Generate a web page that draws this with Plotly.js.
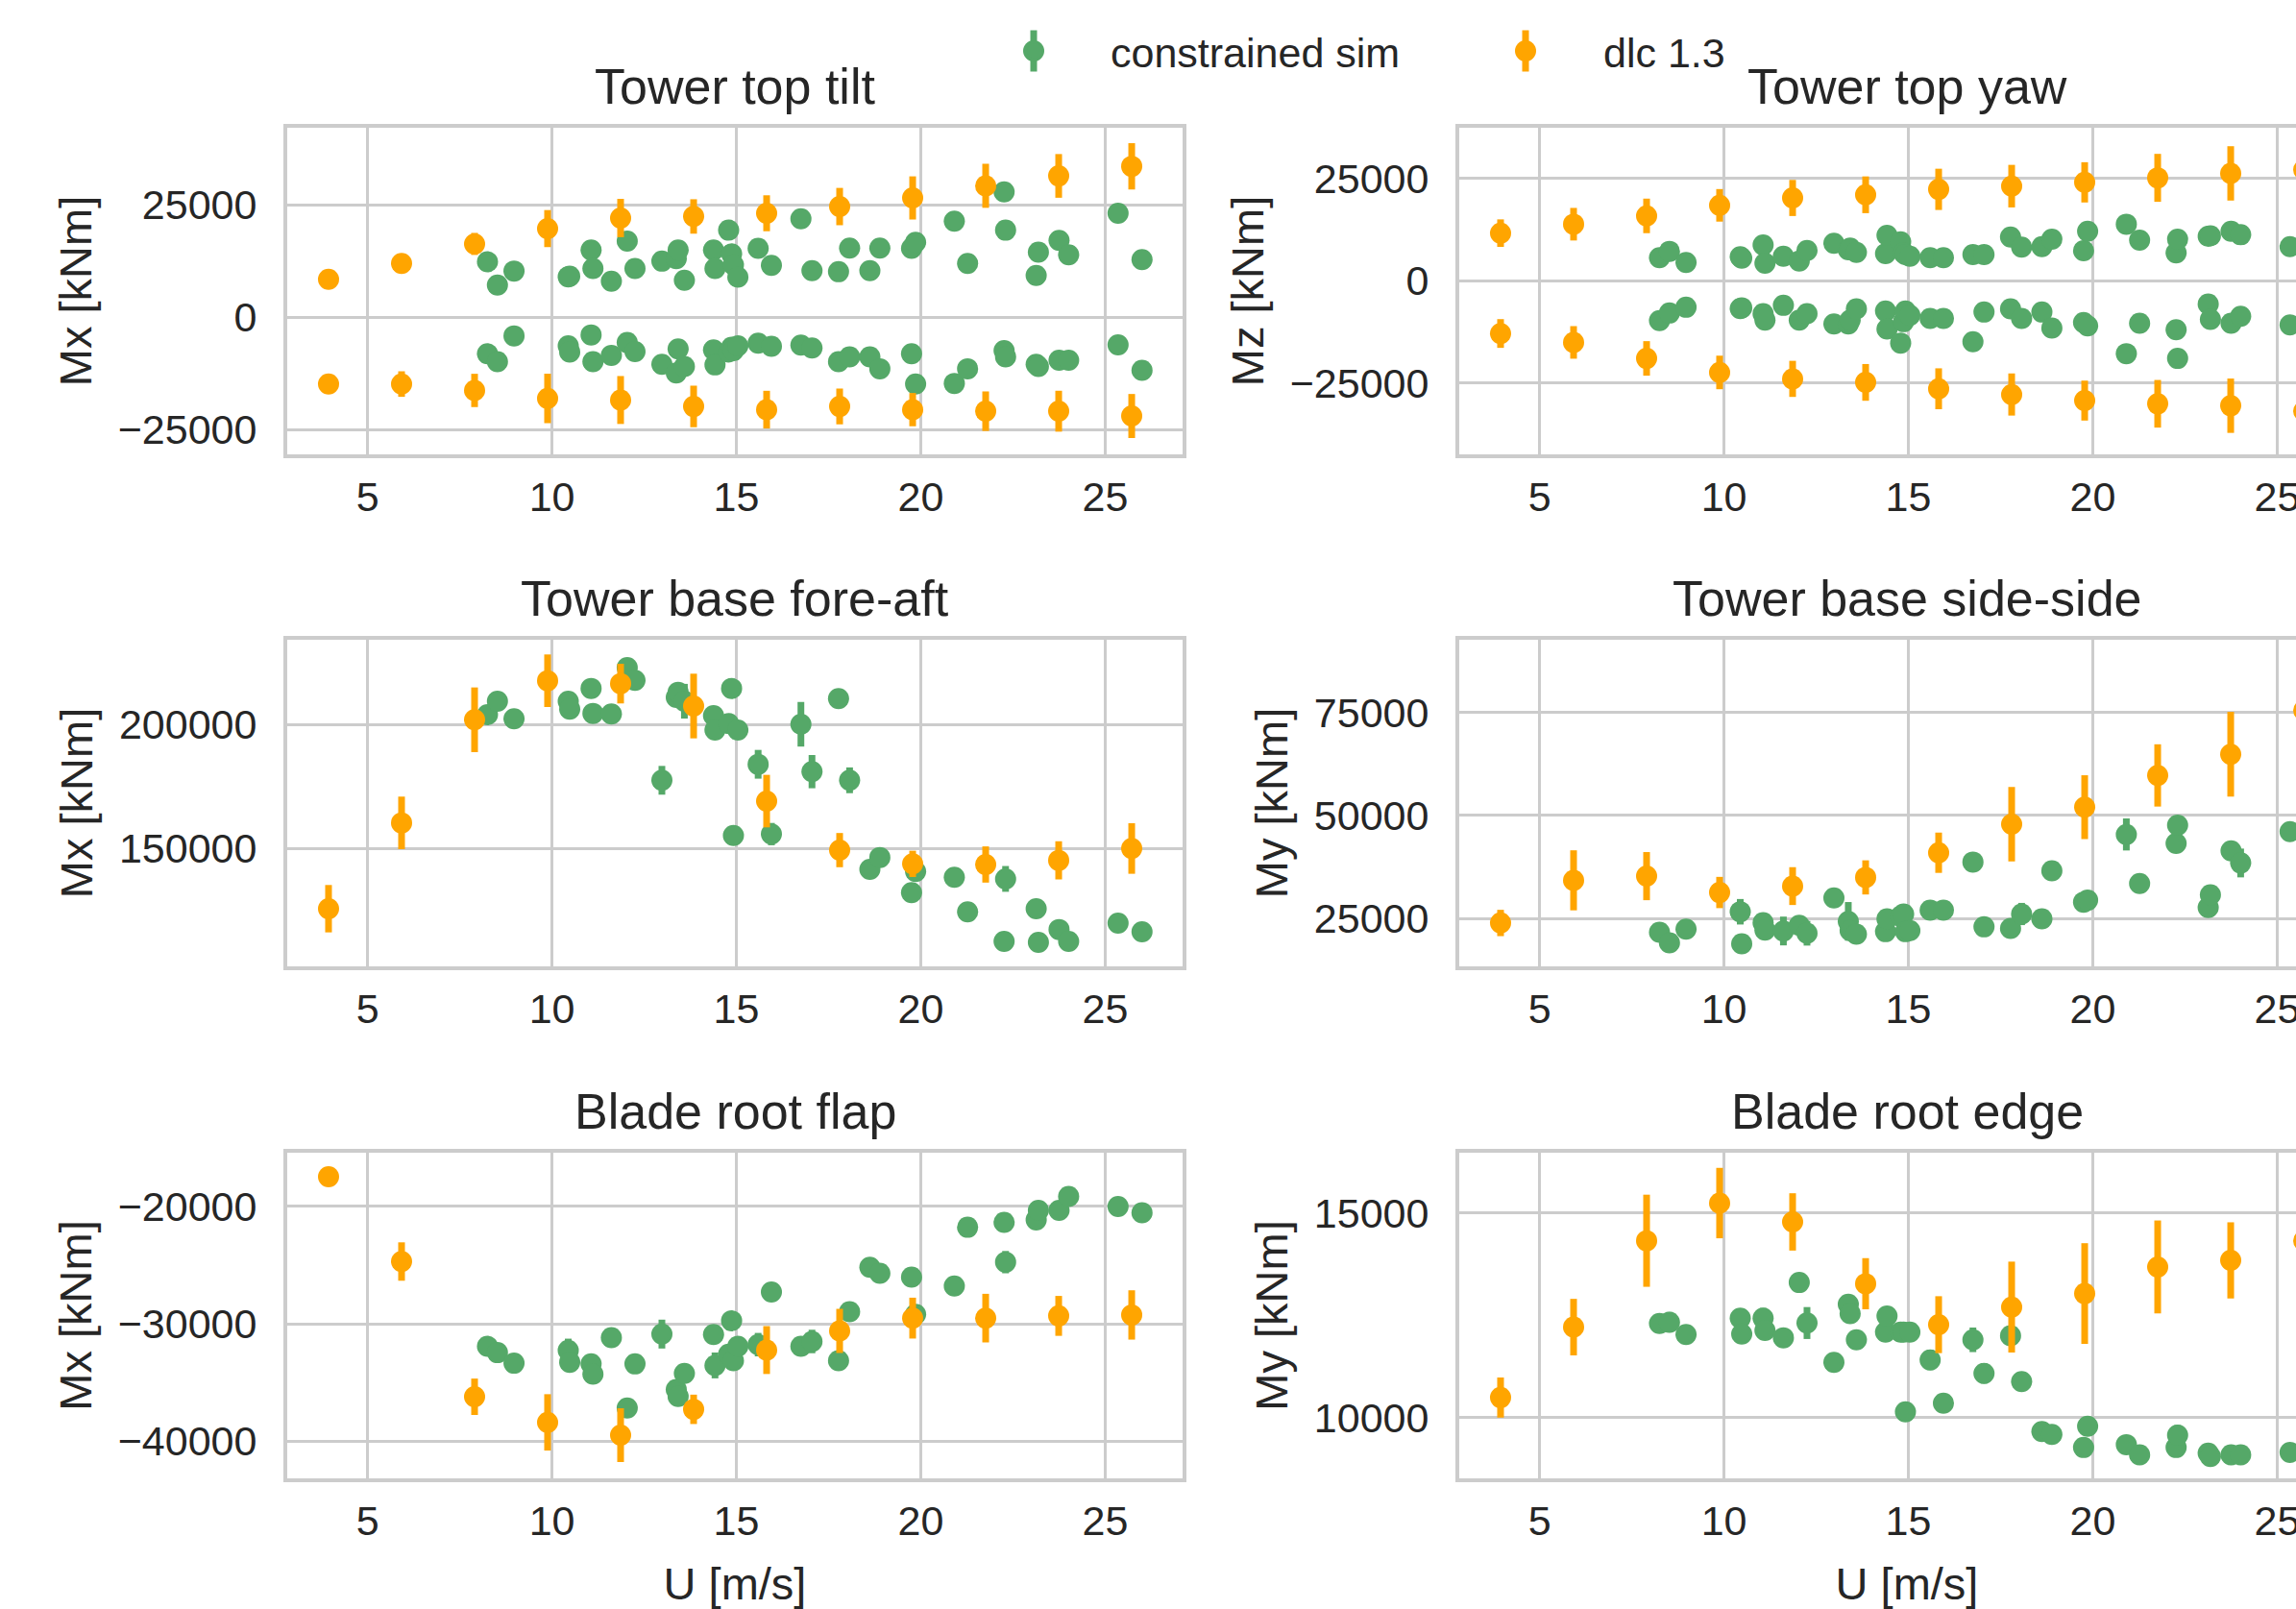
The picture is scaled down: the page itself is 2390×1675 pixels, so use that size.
<!DOCTYPE html>
<html><head><meta charset="utf-8">
<script src="https://cdn.plot.ly/plotly-3.0.1.min.js"></script>
<style>html,body{margin:0;padding:0;overflow:hidden;background:#fff}#chart{width:2460px;height:1675px}</style>
</head><body><div id="chart"></div><script>
// ---------------- data ----------------
const windSpeedDlc = [3.94, 5.92, 7.9, 9.88, 11.86, 13.84, 15.82, 17.8, 19.78, 21.76, 23.74, 25.72];
const windSpeedSim = [8.25, 8.52, 8.97, 10.44, 10.48, 11.06, 11.11, 11.61, 12.04, 12.25, 12.98, 13.37, 13.42, 13.59, 14.38, 14.42, 14.79, 14.87, 14.92, 15.04, 15.59, 15.95, 16.75, 17.05, 17.77, 18.07, 18.62, 18.89, 19.75, 19.86, 20.91, 21.27, 22.26, 22.30, 23.13, 23.19, 23.75, 24.01, 25.35, 26.0];

// Tower top tilt (Mx)
const tiltSimMax = [12290, 7100, 10230, 8950, 9100, 14910, 10800, 7950, 16900, 10800, 12430, 13000, 14910, 8170, 14910, 10800, 19320, 14060, 11580, 8880, 15270, 11500, 21870, 10300, 10080, 15340, 10300, 15340, 15270, 16620, 21310, 11930, 27840, 19320, 9230, 14420, 17040, 13850, 23080, 12780];
const tiltSimMaxErr = [0,0,0,0,0,0,0,0,0,0,0,0,0,0,0,0,0,0,0,0,0,0,0,0,0,0,0,0,0,0,0,2000,0,0,0,0,0,0,0,0];
const tiltSimMin = [-8170, -9940, -4190, -6390, -7810, -3980, -9940, -8520, -5680, -7670, -10510, -12430, -7100, -11010, -7310, -10650, -7810, -6750, -7450, -6400, -5820, -6530, -6250, -6890, -9940, -8880, -8880, -11510, -8170, -14910, -14770, -11510, -7460, -8880, -10510, -11010, -9590, -9590, -6180, -11860];
const tiltSimMinErr = [0,0,0,0,0,0,0,0,0,0,0,0,0,0,0,0,0,0,0,0,0,0,0,0,0,0,0,0,0,0,0,0,0,0,0,0,0,0,0,0];
const tiltDlcMax = [8380, 11930, 16260, 19670, 22020, 22370, 23080, 24570, 26490, 29190, 31390, 33520];
const tiltDlcMaxErr = [1200, 1500, 2450, 4120, 4260, 3830, 4000, 4150, 4800, 4900, 4860, 5150];
const tiltDlcMin = [-14910, -14910, -16330, -18110, -18460, -19890, -20600, -19890, -20600, -20950, -20950, -22020];
const tiltDlcMinErr = [1500, 2840, 3700, 5500, 5330, 4620, 4190, 3980, 3700, 4400, 4550, 4900];

// Tower top yaw (Mz)
const yawSimMax = [5620, 7190, 4450, 5860, 5500, 8750, 4300, 6010, 4840, 7420, 9140, 7580, 8000, 6950, 6640, 11090, 9530, 6800, 6400, 6010, 5620, 5620, 6400, 6400, 10700, 8200, 8360, 10150, 7340, 12110, 13820, 9920, 6790, 10150, 10860, 11000, 12110, 11250, 8360, 8000];
const yawSimMaxErr = [0,0,0,0,0,0,0,0,0,0,0,0,0,0,0,0,0,0,0,0,0,0,0,0,0,0,0,0,0,0,0,0,0,0,0,0,0,0,0,0];
const yawSimMin = [-9760, -7890, -6480, -6790, -6600, -8040, -9610, -6010, -9610, -8040, -10540, -10540, -9600, -6870, -7420, -11790, -15230, -10000, -7420, -8430, -9220, -9220, -14920, -7650, -6870, -9220, -7650, -11560, -10230, -11010, -17810, -10390, -11950, -18980, -5700, -9450, -10390, -8670, -10780, -10000];
const yawSimMinErr = [0,0,0,0,0,0,0,0,0,0,0,0,0,0,0,0,0,0,0,0,0,0,0,0,0,0,0,0,0,0,0,0,0,0,0,0,0,0,0,0];
const yawDlcMax = [11640, 13820, 15850, 18430, 20230, 21010, 22340, 23120, 24050, 25150, 26240, 27100];
const yawDlcMaxErr = [3360, 3980, 4220, 3980, 4410, 4490, 5040, 5200, 4920, 5860, 6640, 6000];
const yawDlcMin = [-12890, -15070, -18980, -22410, -23980, -24840, -26400, -27800, -29290, -30070, -30540, -31870];
const yawDlcMinErr = [3510, 3980, 4220, 4100, 4410, 4490, 5000, 5150, 4880, 5820, 6640, 6000];

// Tower base fore-aft (Mx)
const foreAftSim = [204000, 209430, 202330, 209430, 206200, 214600, 204520, 204260, 223000, 217830, 177520, 210980, 213050, 209430, 203620, 197800, 200390, 214600, 155270, 197800, 183980, 155810, 200130, 181010, 210470, 177520, 141600, 146380, 132170, 140700, 138370, 124420, 112530, 137730, 125710, 112140, 117310, 112530, 119900, 116410];
const foreAftSimErr = [0,3500,0,0,0,0,0,0,0,0,5800,0,0,7000,0,0,0,4000,0,0,5800,4500,9000,6700,0,5200,0,0,0,0,0,0,0,5200,0,0,0,0,0,0];
const foreAftDlc = [125710, 160340, 201940, 217700, 216540, 207490, 169120, 149350, 143800, 143540, 145220, 150000];
const foreAftDlcErr = [9560, 10600, 13050, 10600, 8000, 13050, 10600, 6900, 5300, 7300, 7700, 10200];

// Tower base side-side (My)
const sideSideSim = [21610, 19040, 22390, 26600, 18800, 23950, 22150, 21920, 23320, 21370, 29950, 24260, 22000, 21140, 21760, 24880, 25500, 26050, 21760, 22000, 27000, 27000, 38690, 22930, 22540, 26050, 24880, 36580, 28940, 29410, 45400, 33460, 43210, 47660, 27610, 30730, 41420, 38460, 46100, 45000];
const sideSideSimErr = [0,0,0,3100,0,0,0,3500,0,3000,0,4700,0,0,0,0,0,0,0,0,0,0,0,0,0,2700,0,0,0,0,3900,0,0,0,0,0,0,3500,0,0];
const sideSideDlc = [23870, 34240, 35260, 31280, 32840, 34950, 40950, 47890, 52030, 59750, 64900, 75580];
const sideSideDlcErr = [3200, 7300, 5850, 3800, 4600, 4150, 4900, 9050, 7760, 7570, 10300, 10000];

// Blade root flap (Mx)
const flapSim = [-31910, -32450, -33350, -32260, -33270, -33410, -34280, -31170, -37170, -33410, -30870, -35590, -36190, -34220, -30900, -33540, -32590, -29730, -33130, -31910, -31770, -27280, -31910, -31500, -33130, -28960, -25180, -25690, -26020, -29180, -26780, -21770, -21360, -24740, -21140, -20330, -20330, -19150, -20000, -20540];
const flapSimErr = [0,0,0,1000,0,0,0,0,0,0,1230,0,0,0,0,1100,0,0,0,0,1000,0,0,1000,0,0,0,0,800,0,0,0,0,950,0,0,0,0,600,0];
const flapDlc = [-17470, -24690, -36210, -38390, -39480, -37280, -32230, -30600, -29510, -29510, -29320, -29240];
const flapDlcErr = [500, 1635, 1550, 2400, 2290, 1250, 2040, 1880, 1740, 2070, 1700, 2100];

// Blade root edge (My)
const edgeSim = [12300, 12330, 12030, 12430, 12040, 12430, 12130, 11950, 13300, 12310, 11350, 12770, 12540, 11900, 12090, 12480, 12090, 12090, 10140, 12090, 11410, 10350, 11900, 11080, 12000, 10880, 9660, 9590, 9270, 9790, 9340, 9090, 9270, 9570, 9130, 9050, 9090, 9090, 9150, 9100];
const edgeSimErr = [0,250,0,0,0,250,0,0,0,390,0,0,0,0,0,0,0,0,0,0,250,0,300,250,0,0,0,0,0,0,0,0,0,250,0,0,0,0,0,0];
const edgeDlc = [10490, 12210, 14320, 15240, 14780, 13270, 12270, 12700, 13030, 13680, 13840, 14320];
const edgeDlcErr = [490, 690, 1125, 860, 700, 625, 695, 1110, 1230, 1135, 930, 1000];

const panelTitles = ['Tower top tilt', 'Tower top yaw', 'Tower base fore-aft', 'Tower base side-side', 'Blade root flap', 'Blade root edge'];
const yTitles = ['Mx [kNm]', 'Mz [kNm]', 'Mx [kNm]', 'My [kNm]', 'Mx [kNm]', 'My [kNm]'];
const xTitle = 'U [m/s]';
const seriesNames = ['constrained sim', 'dlc 1.3'];

// ---------------- styling ----------------
const GREEN = '#55a868', ORANGE = '#ffa500', TXT = '#262626', GRID = '#cccccc';
const FONT = '"Liberation Sans", Arial, sans-serif';
const W = 2460, H = 1675;
const MS = 22, EBW = 7;

function sim(ax, y, err, show) {
  return {type: 'scatter', mode: 'markers', x: windSpeedSim, y: y,
    xaxis: 'x' + ax, yaxis: 'y' + ax, name: seriesNames[0], legendgroup: 'sim', showlegend: show,
    marker: {color: GREEN, size: MS, line: {width: 0}},
    error_y: {type: 'data', array: err, visible: true, color: GREEN, thickness: EBW, width: 0}};
}
function dlc(ax, y, err, show) {
  return {type: 'scatter', mode: 'markers', x: windSpeedDlc, y: y,
    xaxis: 'x' + ax, yaxis: 'y' + ax, name: seriesNames[1], legendgroup: 'dlc', showlegend: show,
    marker: {color: ORANGE, size: MS, line: {width: 0}},
    error_y: {type: 'data', array: err, visible: true, color: ORANGE, thickness: EBW, width: 0}};
}

const traces = [
  sim('', tiltSimMax, tiltSimMaxErr, true),
  sim('', tiltSimMin, tiltSimMinErr, false),
  sim('2', yawSimMax, yawSimMaxErr, false),
  sim('2', yawSimMin, yawSimMinErr, false),
  sim('3', foreAftSim, foreAftSimErr, false),
  sim('4', sideSideSim, sideSideSimErr, false),
  sim('5', flapSim, flapSimErr, false),
  sim('6', edgeSim, edgeSimErr, false),
  dlc('', tiltDlcMax, tiltDlcMaxErr, true),
  dlc('', tiltDlcMin, tiltDlcMinErr, false),
  dlc('2', yawDlcMax, yawDlcMaxErr, false),
  dlc('2', yawDlcMin, yawDlcMinErr, false),
  dlc('3', foreAftDlc, foreAftDlcErr, false),
  dlc('4', sideSideDlc, sideSideDlcErr, false),
  dlc('5', flapDlc, flapDlcErr, false),
  dlc('6', edgeDlc, edgeDlcErr, false)
];

const colX = [[299 / W, 1231 / W], [1519 / W, 2451 / W]];
const rowY = [[1 - 473 / H, 1 - 133 / H], [1 - 1006 / H, 1 - 666 / H], [1 - 1539 / H, 1 - 1200 / H]];
const yRanges = [[-30550, 42100], [-42430, 37390], [102440, 234230], [13320, 92740], [-43160, -15420], [8516, 16470]];
const yDticks = [25000, 25000, 50000, 25000, 10000, 5000];

// legend swatch centres (px) – marker with a vertical error bar, as in the source figure
const legendCx = [1076, 1588], legendCy = 53;

const layout = {
  width: W, height: H, margin: {l: 0, r: 0, t: 0, b: 0},
  paper_bgcolor: 'white', plot_bgcolor: 'white',
  separators: '.',
  font: {family: FONT, color: TXT, size: 43},
  showlegend: true,
  legend: {orientation: 'h', x: 998 / W, xanchor: 'left', y: 1 - legendCy / H, yanchor: 'middle',
    font: {size: 43, color: TXT}, itemwidth: 148, entrywidth: 350, entrywidthmode: 'pixels',
    bgcolor: 'rgba(0,0,0,0)', borderwidth: 0},
  annotations: [], shapes: []
};

[GREEN, ORANGE].forEach((c, k) => {
  const cx = legendCx[k];
  layout.shapes.push({type: 'line', xref: 'paper', yref: 'paper', layer: 'above',
    x0: cx / W, x1: cx / W, y0: 1 - (legendCy - 21.5) / H, y1: 1 - (legendCy + 21.5) / H,
    line: {color: c, width: EBW}});
  layout.shapes.push({type: 'circle', xref: 'paper', yref: 'paper', layer: 'above',
    x0: (cx - MS / 2) / W, x1: (cx + MS / 2) / W, y0: 1 - (legendCy + MS / 2) / H, y1: 1 - (legendCy - MS / 2) / H,
    fillcolor: c, line: {width: 0}});
});

for (let i = 0; i < 6; i++) {
  const col = i % 2, row = Math.floor(i / 2);
  const s = i === 0 ? '' : String(i + 1);
  layout['xaxis' + s] = {
    domain: colX[col], anchor: 'y' + s, range: [2.82, 27.1], dtick: 5, tick0: 0,
    showgrid: true, gridcolor: GRID, gridwidth: 3, zeroline: false,
    showline: true, linecolor: GRID, linewidth: 4, mirror: true, ticks: '',
    tickfont: {size: 43, color: TXT}, ticklabelstandoff: 3,
    title: row === 2 ? {text: xTitle, font: {size: 47, color: TXT}, standoff: 33} : {text: ''}
  };
  layout['yaxis' + s] = {
    domain: rowY[row], anchor: 'x' + s, range: yRanges[i], dtick: yDticks[i], tick0: 0,
    showgrid: true, gridcolor: GRID, gridwidth: 3, zeroline: false,
    showline: true, linecolor: GRID, linewidth: 4, mirror: true, ticks: '',
    exponentformat: 'none', separatethousands: false,
    tickfont: {size: 43, color: TXT}, ticklabelstandoff: 19,
    title: {text: yTitles[i], font: {size: 47, color: TXT}, standoff: 13}
  };
  layout.annotations.push({
    text: panelTitles[i], xref: 'paper', yref: 'paper', showarrow: false,
    x: (colX[col][0] + colX[col][1]) / 2, xanchor: 'center',
    y: rowY[row][1] + 43 / H, yanchor: 'middle',
    font: {size: 52, color: TXT}
  });
}

Plotly.newPlot('chart', traces, layout, {displayModeBar: false, staticPlot: true});
</script></body></html>
